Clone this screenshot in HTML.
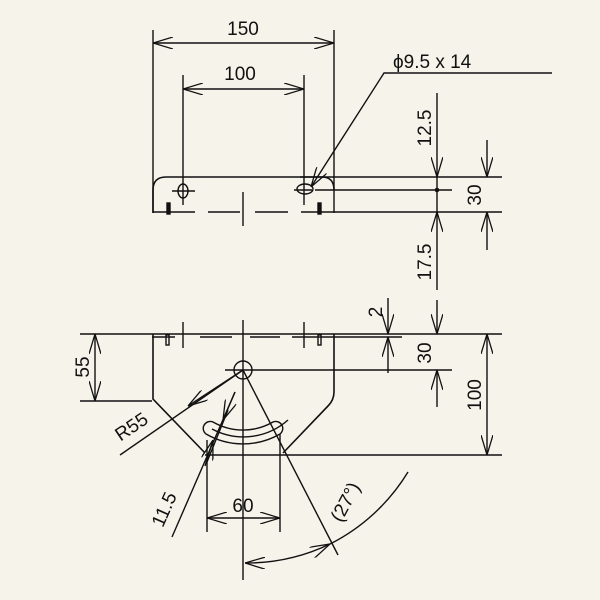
<!DOCTYPE html>
<html><head><meta charset="utf-8"><style>
html,body{margin:0;padding:0;background:#f6f3ea;}
svg{display:block}
text{font-family:"Liberation Sans",sans-serif;font-size:19px;fill:#111}
</style></head><body>
<svg width="600" height="600" viewBox="0 0 600 600" xmlns="http://www.w3.org/2000/svg">
<defs>
<marker id="a" viewBox="0 0 20 12" refX="20" refY="6" markerWidth="20" markerHeight="12" markerUnits="userSpaceOnUse" orient="auto-start-reverse">
<path d="M0,0 L20,6 L0,12" fill="none" stroke="#111" stroke-width="1.3"/>
</marker>
</defs>
<rect width="600" height="600" fill="#f6f3ea"/>
<g stroke="#111" stroke-width="1.4" fill="none">
<!-- TOP VIEW -->
<line x1="153" y1="30" x2="153" y2="213"/>
<line x1="334" y1="30" x2="334" y2="213"/>
<line x1="183" y1="75" x2="183" y2="205"/>
<line x1="304" y1="75" x2="304" y2="205"/>
<line x1="153" y1="43" x2="334" y2="43" marker-start="url(#a)" marker-end="url(#a)"/>
<line x1="183" y1="89" x2="304" y2="89" marker-start="url(#a)" marker-end="url(#a)"/>
<path d="M153,213 L153,190 Q153,177 166,177 L322,177 Q334,177 334,190" stroke-width="1.6"/>
<line x1="153" y1="212" x2="195" y2="212" stroke-width="1.6"/>
<line x1="208" y1="212" x2="240" y2="212" stroke-width="1.6"/>
<line x1="255" y1="212" x2="288" y2="212" stroke-width="1.6"/>
<line x1="301" y1="212" x2="334" y2="212" stroke-width="1.6"/>
<line x1="243" y1="192" x2="243" y2="226"/>
<ellipse cx="183" cy="191" rx="5" ry="7"/>
<line x1="172" y1="191" x2="195" y2="191"/>
<ellipse cx="305" cy="189" rx="8" ry="5"/>
<line x1="294" y1="190" x2="312" y2="190"/>
<rect x="167" y="203" width="3" height="11" fill="#111"/>
<rect x="318" y="203" width="3" height="11" fill="#111"/>
<!-- top right dims -->
<line x1="300" y1="177" x2="502" y2="177"/>
<line x1="334" y1="212" x2="502" y2="212"/>
<line x1="315" y1="190" x2="452" y2="190"/>
<line x1="437" y1="93" x2="437" y2="177" marker-end="url(#a)"/>
<line x1="437" y1="177" x2="437" y2="212"/>
<line x1="437" y1="212" x2="437" y2="290" marker-start="url(#a)"/>
<circle cx="437" cy="190" r="1.6" fill="#111"/>
<line x1="487" y1="140" x2="487" y2="177" marker-end="url(#a)"/>
<line x1="487" y1="212" x2="487" y2="250" marker-start="url(#a)"/>
<!-- leader -->
<polyline points="552,73 384,73 311,187" marker-end="url(#a)"/>
<!-- BOTTOM VIEW -->
<line x1="80" y1="334" x2="152" y2="334"/>
<line x1="80" y1="401" x2="152" y2="401"/>
<line x1="95" y1="334" x2="95" y2="401" marker-start="url(#a)" marker-end="url(#a)"/>
<line x1="152" y1="334" x2="502" y2="334"/>
<line x1="152" y1="337" x2="175" y2="337"/>
<line x1="200" y1="337" x2="232" y2="337"/>
<line x1="250" y1="337" x2="280" y2="337"/>
<line x1="292" y1="337" x2="402" y2="337"/>
<rect x="166" y="335" width="3" height="10"/>
<rect x="318" y="335" width="3" height="10"/>
<line x1="183" y1="322" x2="183" y2="348"/>
<line x1="304" y1="322" x2="304" y2="348"/>
<path d="M153,334 L153,399 L205,453" stroke-width="1.6"/>
<path d="M334,334 L334,392 Q334,400 328,406 L283,453" stroke-width="1.6"/>
<line x1="205" y1="455" x2="502" y2="455"/>
<line x1="243" y1="320" x2="243" y2="580"/>
<circle cx="243" cy="370" r="9"/>
<line x1="225" y1="370" x2="452" y2="370"/>
<!-- dims right -->
<line x1="388" y1="298" x2="388" y2="334" marker-end="url(#a)"/>
<line x1="388" y1="337" x2="388" y2="373" marker-start="url(#a)"/>
<line x1="437" y1="300" x2="437" y2="334" marker-end="url(#a)"/>
<line x1="437" y1="370" x2="437" y2="407" marker-start="url(#a)"/>
<line x1="487" y1="334" x2="487" y2="455" marker-start="url(#a)" marker-end="url(#a)"/>
<!-- R55 leader -->
<line x1="243" y1="370" x2="120" y2="455"/>
<line x1="243" y1="370" x2="188" y2="406" marker-end="url(#a)"/>
<!-- slot -->
<path d="M213,422 A60,60 0 0 0 273,422 A7,7 0 0 1 280,434 A74,74 0 0 1 206,434 A7,7 0 0 1 213,422 Z"/>
<path d="M212,429 A67,67 0 0 0 288,420"/>
<!-- 11.5 lines -->
<line x1="235" y1="392" x2="172" y2="537"/>
<line x1="235" y1="392" x2="223" y2="420" marker-end="url(#a)"/>
<line x1="205" y1="466" x2="213" y2="440" marker-end="url(#a)"/>
<line x1="228" y1="410" x2="207" y2="462"/>
<!-- 27 deg line -->
<line x1="243" y1="370" x2="338" y2="555"/>
<path d="M245,563 A193,193 0 0 0 330,544" marker-start="url(#a)" marker-end="url(#a)"/>
<path d="M330,544 A193,193 0 0 0 408,472"/>
<!-- 60 dim -->
<line x1="207" y1="440" x2="207" y2="532"/>
<line x1="280" y1="434" x2="280" y2="532"/>
<line x1="207" y1="518" x2="280" y2="518" marker-start="url(#a)" marker-end="url(#a)"/>
</g>
<text x="243" y="35" text-anchor="middle">150</text>
<text x="240" y="80" text-anchor="middle">100</text>
<text x="393" y="68">ϕ9.5 x 14</text>
<text transform="translate(431,128) rotate(-90)" text-anchor="middle">12.5</text>
<text transform="translate(431,262) rotate(-90)" text-anchor="middle">17.5</text>
<text transform="translate(481,195) rotate(-90)" text-anchor="middle">30</text>
<text transform="translate(382,312) rotate(-90)" text-anchor="middle">2</text>
<text transform="translate(431,353) rotate(-90)" text-anchor="middle">30</text>
<text transform="translate(481,395) rotate(-90)" text-anchor="middle">100</text>
<text transform="translate(89,367) rotate(-90)" text-anchor="middle">55</text>
<text transform="translate(135,432) rotate(-34)" text-anchor="middle">R55</text>
<text transform="translate(170,512) rotate(-66)" text-anchor="middle">11.5</text>
<text x="243" y="512" text-anchor="middle">60</text>
<text transform="translate(351,505) rotate(-62)" text-anchor="middle">(27°)</text>
</svg>
</body></html>
